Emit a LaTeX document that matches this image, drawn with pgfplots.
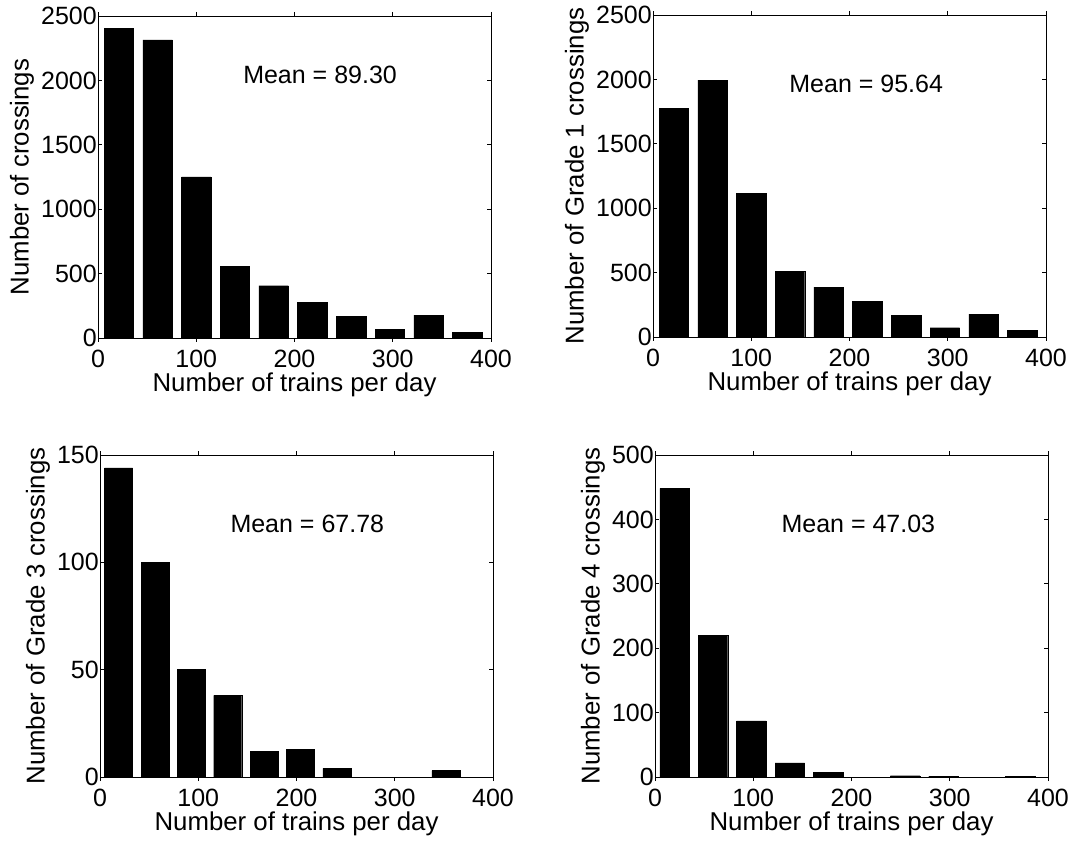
\documentclass[border=0pt]{standalone}
\usepackage{fontspec}
\setmainfont{Liberation Sans}
\usepackage{pgfplots}
\pgfplotsset{compat=1.18}
\pgfplotsset{
  hist/.style={
    scale only axis,
    width=393pt, height=322pt,
    anchor=south west,
    xmin=0, xmax=400, ymin=0,
    xtick={0,100,200,300,400},
    tick align=inside,
    major tick length=4pt,
    minor tick num=0,
    axis line style={line width=0.9pt},
    every tick/.style={black, line width=0.8pt},
    scaled y ticks=false,
    /pgf/number format/1000 sep={},
    /pgf/number format/assume math mode=true,
    every tick label/.append style={font=\fontsize{25}{30}\selectfont, inner sep=1pt},
    xticklabel style={yshift=-7pt},
    label style={font=\fontsize{25.8}{30}\selectfont},
    xlabel={Number of trains per day},
    xlabel style={inner sep=0pt, yshift=-4pt},
    ylabel style={inner sep=0pt, yshift=6pt},
  }
}
\begin{document}
\begin{tikzpicture}
\useasboundingbox (0,0) rectangle (1090pt,847pt);
% Top left
\begin{axis}[hist, at={(98pt,509pt)}, ymax=2500, ytick={0,500,1000,1500,2000,2500},
  ylabel={Number of crossings}, ybar, bar width=30]
\addplot[draw=black, fill=black] coordinates {(21.2,2405) (60.6,2315) (100.0,1251) (139.4,554) (178.8,406) (218.2,278) (257.6,166) (297.0,65) (336.4,177) (375.8,45)};
\node[font=\fontsize{25}{30}\selectfont] at (axis cs:226,2040) {Mean = 89.30};
\end{axis}
% Top right
\begin{axis}[hist, at={(653pt,510pt)}, ymax=2500, ytick={0,500,1000,1500,2000,2500},
  ylabel={Number of Grade 1 crossings}, ybar, bar width=30]
\addplot[draw=black, fill=black] coordinates {(21.2,1774) (60.6,1994) (100.0,1116) (139.4,509) (178.8,387) (218.2,276) (257.6,168) (297.0,72) (336.4,178) (375.8,54)};
\node[font=\fontsize{25}{30}\selectfont] at (axis cs:217,1966) {Mean = 95.64};
\end{axis}
% Bottom left
\begin{axis}[hist, at={(100pt,70pt)}, ymax=150, ytick={0,50,100,150},
  ylabel={Number of Grade 3 crossings}, ybar, bar width=28.5]
\addplot[draw=black, fill=black] coordinates {(19,144) (56,100) (93,50) (130,38) (167,12) (204,13) (241,4) (278,0) (315,0) (352,3)};
\node[font=\fontsize{25}{30}\selectfont] at (axis cs:211,118) {Mean = 67.78};
\end{axis}
% Bottom right
\begin{axis}[hist, at={(655pt,70pt)}, ymax=500, ytick={0,100,200,300,400,500},
  ylabel={Number of Grade 4 crossings}, ybar, bar width=30]
\addplot[draw=black, fill=black] coordinates {(19.9,448) (59.0,220) (98.1,87) (137.2,22) (176.3,7) (215.4,0) (254.5,2) (293.6,1) (332.7,0) (371.8,1)};
\node[font=\fontsize{25}{30}\selectfont] at (axis cs:207,393) {Mean = 47.03};
\end{axis}
\end{tikzpicture}
\end{document}
